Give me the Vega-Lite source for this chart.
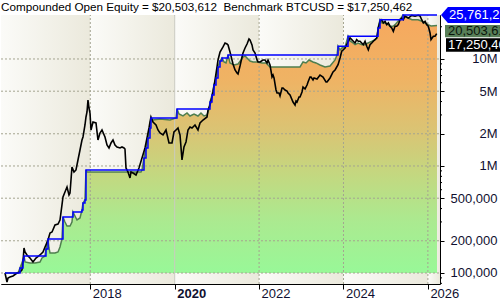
{
  "$schema": "https://vega.github.io/schema/vega-lite/v6.json",
  "width": 439,
  "height": 269,
  "autosize": "none",
  "padding": {"left": 1, "top": 15, "right": 60, "bottom": 16},
  "background": "white",
  "title": {"text": "Compounded Open Equity = $20,503,612\u00a0 Benchmark BTCUSD = $17,250,462", "anchor": "start", "frame": "group", "font": "Liberation Sans", "fontSize": 11.7, "fontWeight": "normal", "color": "#000000", "offset": -7},
  "config": {"view": {"stroke": "#000000", "strokeWidth": 1}},
  "datasets": {
    "bands": [{"a": 2015.884, "b": 2018}, {"a": 2018, "b": 2020}, {"a": 2020, "b": 2022}, {"a": 2022, "b": 2024}, {"a": 2024, "b": 2026}, {"a": 2026, "b": 2026.287}],
    "hgrid": [{"v": 100000}, {"v": 200000}, {"v": 500000}, {"v": 1000000}, {"v": 2000000}, {"v": 5000000}, {"v": 10000000}],
    "vgrid": [{"t": 2018}, {"t": 2022}, {"t": 2024}, {"t": 2026}],
    "vgrid2": [{"t": 2020}],
    "bench": [{"t":2015.979,"v":100000},{"t":2016.026,"v":82400},{"t":2016.05,"v":89800},{"t":2016.097,"v":91800},{"t":2016.168,"v":93800},{"t":2016.263,"v":100000},{"t":2016.334,"v":102200},{"t":2016.381,"v":106700},{"t":2016.405,"v":126700},{"t":2016.429,"v":171300},{"t":2016.453,"v":157100},{"t":2016.5,"v":147300},{"t":2016.571,"v":138100},{"t":2016.642,"v":126700},{"t":2016.713,"v":138100},{"t":2016.808,"v":147300},{"t":2016.879,"v":157100},{"t":2016.927,"v":175000},{"t":2016.998,"v":203400},{"t":2017.045,"v":236500},{"t":2017.093,"v":241700},{"t":2017.164,"v":280900},{"t":2017.235,"v":287000},{"t":2017.282,"v":312800},{"t":2017.329,"v":432100},{"t":2017.353,"v":513000},{"t":2017.4,"v":571600},{"t":2017.448,"v":636500},{"t":2017.495,"v":536000},{"t":2017.519,"v":559500},{"t":2017.566,"v":979000},{"t":2017.614,"v":879000},{"t":2017.661,"v":917600},{"t":2017.708,"v":1138000},{"t":2017.756,"v":1411000},{"t":2017.803,"v":1750000},{"t":2017.827,"v":1866000},{"t":2017.874,"v":2416000},{"t":2017.898,"v":2871000},{"t":2017.922,"v":3195000},{"t":2017.945,"v":4137000},{"t":2017.969,"v":3482000},{"t":2017.993,"v":3127000},{"t":2018.017,"v":2170000},{"t":2018.064,"v":2577000},{"t":2018.135,"v":2523000},{"t":2018.182,"v":1750000},{"t":2018.23,"v":2033000},{"t":2018.277,"v":2170000},{"t":2018.348,"v":1866000},{"t":2018.396,"v":1571000},{"t":2018.443,"v":1473000},{"t":2018.491,"v":1641000},{"t":2018.538,"v":1750000},{"t":2018.585,"v":1571000},{"t":2018.633,"v":1505000},{"t":2018.704,"v":1473000},{"t":2018.751,"v":1505000},{"t":2018.799,"v":1473000},{"t":2018.822,"v":1442000},{"t":2018.846,"v":958000},{"t":2018.893,"v":879000},{"t":2018.941,"v":773000},{"t":2018.965,"v":879000},{"t":2019.012,"v":860000},{"t":2019.083,"v":824000},{"t":2019.154,"v":958000},{"t":2019.225,"v":1188000},{"t":2019.296,"v":1473000},{"t":2019.344,"v":1827000},{"t":2019.391,"v":2265000},{"t":2019.415,"v":2577000},{"t":2019.438,"v":2871000},{"t":2019.486,"v":2577000},{"t":2019.557,"v":2416000},{"t":2019.604,"v":2170000},{"t":2019.652,"v":2033000},{"t":2019.723,"v":1950000},{"t":2019.794,"v":2170000},{"t":2019.865,"v":1641000},{"t":2019.936,"v":1641000},{"t":2019.983,"v":2078000},{"t":2020.031,"v":2170000},{"t":2020.078,"v":2265000},{"t":2020.126,"v":1950000},{"t":2020.173,"v":1138000},{"t":2020.22,"v":1505000},{"t":2020.268,"v":1676000},{"t":2020.315,"v":2170000},{"t":2020.363,"v":2315000},{"t":2020.41,"v":2265000},{"t":2020.481,"v":2416000},{"t":2020.552,"v":2170000},{"t":2020.6,"v":2523000},{"t":2020.671,"v":2690000},{"t":2020.766,"v":2871000},{"t":2020.79,"v":3336000},{"t":2020.837,"v":3715000},{"t":2020.884,"v":4413000},{"t":2020.908,"v":4920000},{"t":2020.956,"v":6366000},{"t":2021.003,"v":8420000},{"t":2021.027,"v":9790000},{"t":2021.074,"v":11620000},{"t":2021.145,"v":12950000},{"t":2021.193,"v":14110000},{"t":2021.24,"v":13800000},{"t":2021.264,"v":13520000},{"t":2021.311,"v":11620000},{"t":2021.358,"v":9790000},{"t":2021.382,"v":8980000},{"t":2021.43,"v":7890000},{"t":2021.477,"v":7400000},{"t":2021.501,"v":7240000},{"t":2021.548,"v":8600000},{"t":2021.595,"v":10440000},{"t":2021.619,"v":11370000},{"t":2021.667,"v":12670000},{"t":2021.714,"v":13800000},{"t":2021.761,"v":15380000},{"t":2021.785,"v":15060000},{"t":2021.832,"v":13520000},{"t":2021.856,"v":12130000},{"t":2021.904,"v":11370000},{"t":2021.951,"v":9790000},{"t":2021.975,"v":9380000},{"t":2022.022,"v":9380000},{"t":2022.093,"v":9790000},{"t":2022.141,"v":9790000},{"t":2022.188,"v":9180000},{"t":2022.212,"v":9790000},{"t":2022.259,"v":8790000},{"t":2022.306,"v":6790000},{"t":2022.33,"v":7080000},{"t":2022.354,"v":6645000},{"t":2022.401,"v":5130000},{"t":2022.425,"v":4810000},{"t":2022.472,"v":4810000},{"t":2022.496,"v":4508000},{"t":2022.543,"v":5358000},{"t":2022.567,"v":5358000},{"t":2022.615,"v":5130000},{"t":2022.662,"v":5020000},{"t":2022.686,"v":4810000},{"t":2022.733,"v":4610000},{"t":2022.804,"v":3962000},{"t":2022.852,"v":3715000},{"t":2022.875,"v":4048000},{"t":2022.899,"v":3962000},{"t":2022.946,"v":4413000},{"t":2022.97,"v":4413000},{"t":2023.017,"v":4920000},{"t":2023.041,"v":5470000},{"t":2023.089,"v":5245000},{"t":2023.136,"v":5710000},{"t":2023.16,"v":6095000},{"t":2023.207,"v":6790000},{"t":2023.231,"v":6790000},{"t":2023.278,"v":6366000},{"t":2023.302,"v":6645000},{"t":2023.373,"v":6500000},{"t":2023.444,"v":7080000},{"t":2023.515,"v":6790000},{"t":2023.586,"v":6095000},{"t":2023.61,"v":6095000},{"t":2023.681,"v":6645000},{"t":2023.752,"v":7560000},{"t":2023.8,"v":7890000},{"t":2023.871,"v":8850000},{"t":2023.918,"v":10210000},{"t":2023.958,"v":11800000},{"t":2023.996,"v":12200000},{"t":2024.037,"v":12670000},{"t":2024.114,"v":14640000},{"t":2024.155,"v":15720000},{"t":2024.195,"v":15150000},{"t":2024.233,"v":14640000},{"t":2024.274,"v":14110000},{"t":2024.313,"v":15150000},{"t":2024.351,"v":14640000},{"t":2024.392,"v":14640000},{"t":2024.432,"v":14110000},{"t":2024.47,"v":13600000},{"t":2024.511,"v":14640000},{"t":2024.551,"v":13150000},{"t":2024.588,"v":12200000},{"t":2024.629,"v":13600000},{"t":2024.669,"v":14110000},{"t":2024.707,"v":14640000},{"t":2024.748,"v":15150000},{"t":2024.788,"v":15720000},{"t":2024.826,"v":19500000},{"t":2024.866,"v":22500000},{"t":2024.906,"v":23280000},{"t":2024.944,"v":21700000},{"t":2024.985,"v":22500000},{"t":2025.024,"v":20920000},{"t":2025.062,"v":21700000},{"t":2025.103,"v":20230000},{"t":2025.143,"v":19500000},{"t":2025.181,"v":18150000},{"t":2025.222,"v":20230000},{"t":2025.262,"v":20230000},{"t":2025.299,"v":20920000},{"t":2025.34,"v":23280000},{"t":2025.38,"v":24140000},{"t":2025.418,"v":23280000},{"t":2025.459,"v":25080000},{"t":2025.537,"v":24140000},{"t":2025.617,"v":25500000},{"t":2025.696,"v":25080000},{"t":2025.773,"v":25600000},{"t":2025.813,"v":25230000},{"t":2025.853,"v":23280000},{"t":2025.892,"v":21700000},{"t":2025.933,"v":22500000},{"t":2025.972,"v":20920000},{"t":2026.01,"v":20230000},{"t":2026.051,"v":17500000},{"t":2026.074,"v":15150000},{"t":2026.129,"v":16300000},{"t":2026.169,"v":16300000},{"t":2026.209,"v":17250462}],
    "equity": [{"t":2015.979,"v":100000},{"t":2016.287,"v":100000},{"t":2016.334,"v":111400},{"t":2016.405,"v":132300},{"t":2016.429,"v":144200},{"t":2016.453,"v":126700},{"t":2016.571,"v":124000},{"t":2016.69,"v":124000},{"t":2016.808,"v":126700},{"t":2016.856,"v":138100},{"t":2016.927,"v":144200},{"t":2016.95,"v":167600},{"t":2016.998,"v":208000},{"t":2017.021,"v":171300},{"t":2017.045,"v":153800},{"t":2017.164,"v":153800},{"t":2017.235,"v":157100},{"t":2017.282,"v":175000},{"t":2017.329,"v":208000},{"t":2017.353,"v":333600},{"t":2017.4,"v":299700},{"t":2017.448,"v":274900},{"t":2017.519,"v":274900},{"t":2017.566,"v":299700},{"t":2017.59,"v":371700},{"t":2017.637,"v":341000},{"t":2017.685,"v":312800},{"t":2017.756,"v":326600},{"t":2017.803,"v":388000},{"t":2017.827,"v":451300},{"t":2017.874,"v":481000},{"t":2017.898,"v":917600},{"t":2017.922,"v":879000},{"t":2018.23,"v":879000},{"t":2018.704,"v":879000},{"t":2019.201,"v":879000},{"t":2019.225,"v":917600},{"t":2019.273,"v":1188000},{"t":2019.32,"v":1473000},{"t":2019.367,"v":1827000},{"t":2019.415,"v":2265000},{"t":2019.438,"v":2810000},{"t":2019.486,"v":2690000},{"t":2019.652,"v":2750000},{"t":2019.889,"v":2690000},{"t":2020.031,"v":2810000},{"t":2020.055,"v":3408000},{"t":2020.102,"v":3062000},{"t":2020.197,"v":2933000},{"t":2020.292,"v":3127000},{"t":2020.363,"v":2933000},{"t":2020.458,"v":3062000},{"t":2020.552,"v":2933000},{"t":2020.623,"v":3127000},{"t":2020.694,"v":2933000},{"t":2020.766,"v":2997000},{"t":2020.813,"v":3408000},{"t":2020.837,"v":3962000},{"t":2020.884,"v":4610000},{"t":2020.932,"v":5710000},{"t":2020.979,"v":6645000},{"t":2021.027,"v":8420000},{"t":2021.074,"v":9580000},{"t":2021.121,"v":10210000},{"t":2021.169,"v":9380000},{"t":2021.216,"v":9180000},{"t":2021.264,"v":10890000},{"t":2021.311,"v":9180000},{"t":2021.406,"v":8790000},{"t":2021.501,"v":8980000},{"t":2021.572,"v":9790000},{"t":2021.619,"v":10440000},{"t":2021.667,"v":10660000},{"t":2021.714,"v":10210000},{"t":2021.785,"v":9580000},{"t":2021.856,"v":9380000},{"t":2021.975,"v":9380000},{"t":2022.069,"v":9180000},{"t":2022.164,"v":9180000},{"t":2022.259,"v":8420000},{"t":2022.97,"v":8420000},{"t":2023.041,"v":9380000},{"t":2023.112,"v":9180000},{"t":2023.183,"v":9790000},{"t":2023.278,"v":9380000},{"t":2023.349,"v":9180000},{"t":2023.444,"v":8790000},{"t":2023.562,"v":8420000},{"t":2023.681,"v":8600000},{"t":2023.8,"v":9790000},{"t":2023.847,"v":10890000},{"t":2023.871,"v":13150000},{"t":2023.918,"v":12130000},{"t":2023.965,"v":12670000},{"t":2024.037,"v":12950000},{"t":2024.108,"v":16300000},{"t":2024.155,"v":14730000},{"t":2024.226,"v":14110000},{"t":2024.274,"v":13600000},{"t":2024.345,"v":14110000},{"t":2024.439,"v":13600000},{"t":2024.511,"v":13600000},{"t":2024.582,"v":14110000},{"t":2024.676,"v":14640000},{"t":2024.748,"v":15150000},{"t":2024.795,"v":15720000},{"t":2024.819,"v":19500000},{"t":2024.866,"v":23280000},{"t":2024.913,"v":21700000},{"t":2024.985,"v":21700000},{"t":2025.056,"v":20920000},{"t":2025.103,"v":20230000},{"t":2025.174,"v":20230000},{"t":2025.222,"v":20920000},{"t":2025.293,"v":22500000},{"t":2025.364,"v":24140000},{"t":2025.411,"v":25761214},{"t":2025.459,"v":25080000},{"t":2025.529,"v":24140000},{"t":2025.624,"v":23280000},{"t":2025.766,"v":23280000},{"t":2025.861,"v":22500000},{"t":2025.932,"v":21700000},{"t":2026.004,"v":20920000},{"t":2026.075,"v":20330000},{"t":2026.216,"v":20503612}],
    "peak": [{"t":2015.979,"v":100000},{"t":2016.334,"v":111400},{"t":2016.405,"v":132300},{"t":2016.429,"v":144200},{"t":2016.95,"v":167600},{"t":2016.998,"v":208000},{"t":2017.353,"v":333600},{"t":2017.59,"v":371700},{"t":2017.803,"v":388000},{"t":2017.827,"v":451300},{"t":2017.874,"v":481000},{"t":2017.898,"v":917600},{"t":2019.273,"v":1188000},{"t":2019.32,"v":1473000},{"t":2019.367,"v":1827000},{"t":2019.415,"v":2265000},{"t":2019.438,"v":2810000},{"t":2020.055,"v":3408000},{"t":2020.837,"v":3962000},{"t":2020.884,"v":4610000},{"t":2020.932,"v":5710000},{"t":2020.979,"v":6645000},{"t":2021.027,"v":8420000},{"t":2021.074,"v":9580000},{"t":2021.121,"v":10210000},{"t":2021.264,"v":10890000},{"t":2023.871,"v":13150000},{"t":2024.108,"v":16300000},{"t":2024.819,"v":19500000},{"t":2024.866,"v":23280000},{"t":2025.411,"v":25761214},{"t":2026.216,"v":25761214}],
    "minor": [{"v":80000},{"v":90000},{"v":300000},{"v":400000},{"v":600000},{"v":700000},{"v":800000},{"v":900000},{"v":3000000},{"v":4000000},{"v":6000000},{"v":7000000},{"v":8000000},{"v":9000000},{"v":20000000}],
    "labels": [{"s":"peak","v":25761214,"txt":"25,761,214"},{"s":"equity","v":20503612,"txt":"20,503,612"},{"s":"bench","v":17250462,"txt":"17,250,462"}]
  },
  "layer": [
    {
      "data": {"name": "bands"},
      "mark": {"type": "rect", "fill": {"gradient": "linear", "x1": 0, "y1": 0, "x2": 1, "y2": 0, "stops": [{"offset": 0, "color": "#fbfbf8"}, {"offset": 1, "color": "#ebe9dc"}]}},
      "encoding": {
        "x": {"field": "a", "type": "quantitative", "title": null, "scale": {"domain": [2015.884, 2026.287], "nice": false, "zero": false}},
        "x2": {"field": "b"}
      }
    },
    {
      "data": {"name": "equity"},
      "mark": {"type": "area", "fill": {"gradient": "linear", "x1": 0, "y1": 0, "x2": 0, "y2": 1, "stops": [{"offset": 0, "color": "#f7a85e"}, {"offset": 0.25, "color": "#efb364"}, {"offset": 0.45, "color": "#dac474"}, {"offset": 0.62, "color": "#c3d880"}, {"offset": 0.8, "color": "#abea90"}, {"offset": 1, "color": "#98f898"}]}},
      "encoding": {
        "x": {"field": "t", "type": "quantitative", "title": null, "scale": {"domain": [2015.884, 2026.287], "nice": false, "zero": false},
          "axis": {"values": [2018, 2020, 2022, 2024, 2026], "format": "d", "orient": "bottom", "grid": false,
            "domain": false, "tickSize": 5, "tickColor": "#000000", "labelAlign": "left", "labelBaseline": "top", "labelPadding": -2, "labelOffset": 2,
            "labelFont": "Liberation Sans", "labelFontSize": 13, "labelColor": "#101030", "labelFlush": false, "labelOverlap": false,
            "labelFontWeight": {"condition": {"test": "datum.value == 2020", "value": "bold"}, "value": "normal"}}},
        "y": {"field": "v", "type": "quantitative", "title": null, "scale": {"type": "log", "domain": [78900, 25761214], "nice": false},
          "axis": {"orient": "right", "values": [100000, 200000, 500000, 1000000, 2000000, 5000000, 10000000],
            "labelExpr": "datum.value >= 1000000 ? (datum.value / 1000000) + 'M' : format(datum.value, ',')",
            "grid": false, "domain": false, "tickSize": 4, "tickColor": "#000000",
            "labelAlign": "right", "labelBaseline": "middle", "labelPadding": 53, "labelFont": "Liberation Sans", "labelFontSize": 13, "labelColor": "#101030",
            "labelFlush": false, "labelOverlap": false}},
        "y2": {"datum": 100000}
      }
    },
    {
      "data": {"name": "hgrid"},
      "mark": {"type": "rule", "stroke": "#a4a490", "strokeWidth": 1, "strokeDash": [2, 2]},
      "encoding": {
        "x": {"datum": 2015.884, "type": "quantitative", "title": null},
        "x2": {"datum": 2026.287},
        "y": {"field": "v", "type": "quantitative", "title": null}
      }
    },
    {
      "data": {"name": "vgrid"},
      "mark": {"type": "rule", "stroke": "#a4a490", "strokeWidth": 1, "strokeDash": [2, 2]},
      "encoding": {
        "x": {"field": "t", "type": "quantitative", "title": null},
        "y": {"datum": 78900, "type": "quantitative", "title": null},
        "y2": {"datum": 25761214}
      }
    },
    {
      "data": {"name": "vgrid2"},
      "mark": {"type": "rule", "stroke": "#cbcbc0", "strokeWidth": 1},
      "encoding": {
        "x": {"field": "t", "type": "quantitative", "title": null},
        "y": {"datum": 78900, "type": "quantitative", "title": null},
        "y2": {"datum": 25761214}
      }
    },
    {
      "data": {"name": "equity"},
      "mark": {"type": "line", "stroke": "#4f7f4f", "strokeWidth": 1.5},
      "encoding": {
        "x": {"field": "t", "type": "quantitative", "title": null},
        "y": {"field": "v", "type": "quantitative", "title": null}
      }
    },
    {
      "data": {"name": "bench"},
      "mark": {"type": "line", "stroke": "#000000", "strokeWidth": 1.6},
      "encoding": {
        "x": {"field": "t", "type": "quantitative", "title": null},
        "y": {"field": "v", "type": "quantitative", "title": null}
      }
    },
    {
      "data": {"name": "peak"},
      "mark": {"type": "line", "stroke": "#0000ff", "strokeWidth": 1.5, "interpolate": "step-after"},
      "encoding": {
        "x": {"field": "t", "type": "quantitative", "title": null},
        "y": {"field": "v", "type": "quantitative", "title": null}
      }
    },
    {
      "data": {"name": "minor"},
      "mark": {"type": "rule", "stroke": "#000000", "strokeWidth": 1, "x2Offset": 2},
      "encoding": {
        "x": {"datum": 2026.287, "type": "quantitative", "title": null},
        "x2": {"datum": 2026.287},
        "y": {"field": "v", "type": "quantitative", "title": null}
      }
    },
    {
      "data": {"name": "labels"},
      "transform": [{"filter": "datum.s == 'peak'"}],
      "mark": {"type": "point", "shape": "M-1,0L-0.77,-0.27L1,-0.27L1,0.27L-0.77,0.27Z", "size": 3600, "filled": true, "fill": "#0000ff", "opacity": 1, "strokeWidth": 0, "xOffset": 31},
      "encoding": {"x": {"datum": 2026.287, "type": "quantitative", "title": null}, "y": {"field": "v", "type": "quantitative", "title": null}}
    },
    {
      "data": {"name": "labels"},
      "transform": [{"filter": "datum.s == 'peak'"}],
      "mark": {"type": "text", "align": "left", "baseline": "middle", "dx": 9, "font": "Liberation Sans", "fontSize": 13, "fill": "#ffffff"},
      "encoding": {"x": {"datum": 2026.287, "type": "quantitative", "title": null}, "y": {"field": "v", "type": "quantitative", "title": null}, "text": {"field": "txt"}}
    },
    {
      "data": {"name": "labels"},
      "transform": [{"filter": "datum.s == 'equity'"}],
      "mark": {"type": "point", "shape": "M-1,-0.22L1,-0.22L1,0.22L-1,0.22Z", "size": 3136, "filled": true, "fill": "#587f58", "opacity": 1, "strokeWidth": 0, "xOffset": 33, "yOffset": 5.5},
      "encoding": {"x": {"datum": 2026.287, "type": "quantitative", "title": null}, "y": {"field": "v", "type": "quantitative", "title": null}}
    },
    {
      "data": {"name": "labels"},
      "transform": [{"filter": "datum.s == 'equity'"}],
      "mark": {"type": "text", "align": "left", "baseline": "middle", "dx": 8, "yOffset": 5.5, "font": "Liberation Sans", "fontSize": 13, "fill": "#0a140a"},
      "encoding": {"x": {"datum": 2026.287, "type": "quantitative", "title": null}, "y": {"field": "v", "type": "quantitative", "title": null}, "text": {"field": "txt"}}
    },
    {
      "data": {"name": "labels"},
      "transform": [{"filter": "datum.s == 'bench'"}],
      "mark": {"type": "point", "shape": "M-1,-0.24L1,-0.24L1,0.24L-1,0.24Z", "size": 3136, "filled": true, "fill": "#000000", "opacity": 1, "strokeWidth": 0, "xOffset": 34, "yOffset": 11.4},
      "encoding": {"x": {"datum": 2026.287, "type": "quantitative", "title": null}, "y": {"field": "v", "type": "quantitative", "title": null}}
    },
    {
      "data": {"name": "labels"},
      "transform": [{"filter": "datum.s == 'bench'"}],
      "mark": {"type": "text", "align": "left", "baseline": "middle", "dx": 8, "yOffset": 11.4, "font": "Liberation Sans", "fontSize": 13, "fill": "#ffffff"},
      "encoding": {"x": {"datum": 2026.287, "type": "quantitative", "title": null}, "y": {"field": "v", "type": "quantitative", "title": null}, "text": {"field": "txt"}}
    }
  ]
}
